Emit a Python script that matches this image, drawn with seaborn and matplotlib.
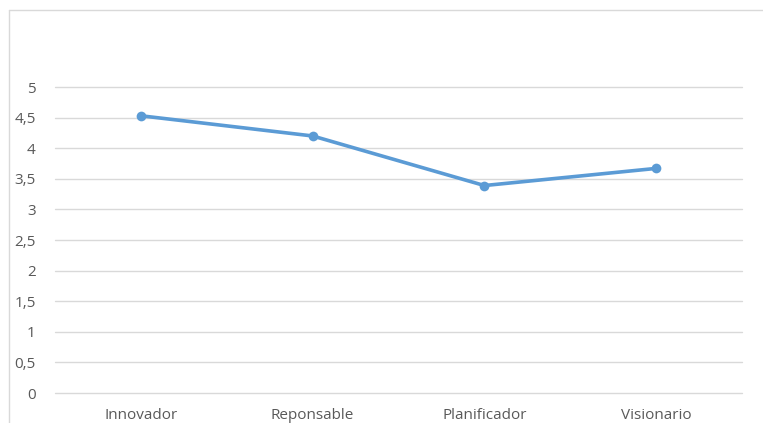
import matplotlib

matplotlib.use("Agg")
import matplotlib.pyplot as plt
import pandas as pd
import seaborn as sns
from matplotlib.lines import Line2D
from matplotlib.ticker import FuncFormatter

categories = ["Innovador", "Reponsable", "Planificador", "Visionario"]
values = [4.53, 4.20, 3.39, 3.67]
y_ticks = [0, 0.5, 1, 1.5, 2, 2.5, 3, 3.5, 4, 4.5, 5]

df = pd.DataFrame({"categoria": categories, "valor": values})

sns.set_theme(style="white")
plt.rcParams["font.family"] = ["Open Sans", "DejaVu Sans"]

fig = plt.figure(figsize=(7.63, 4.23), dpi=100)
ax = fig.add_axes([0.0721, 0.0709, 0.9004, 0.7234])

sns.lineplot(data=df, x="categoria", y="valor", ax=ax, color="#5B9BD5",
             linewidth=2.6, marker="o", markersize=7, markeredgewidth=0,
             sort=False, zorder=3)

ax.set_xlim(-0.5, 3.5)
ax.set_ylim(0, 5)
ax.set_yticks(y_ticks)
ax.yaxis.set_major_formatter(
    FuncFormatter(lambda v, _: f"{v:g}".replace(".", ","))
)
ax.grid(axis="y", color="#D9D9D9", linewidth=1)
for gl in ax.get_ygridlines():
    gl.set_clip_on(False)
ax.set_axisbelow(True)
for side in ax.spines.values():
    side.set_visible(False)
ax.tick_params(axis="both", length=0, labelsize=11, colors="#595959")
ax.tick_params(axis="x", pad=11)
ax.tick_params(axis="y", pad=14)
ax.set_xlabel("")
ax.set_ylabel("")

# chart area border (Excel style)
fig.add_artist(Line2D([0.0118, 0.0118], [0.0, 0.976], transform=fig.transFigure,
                      color="#D9D9D9", linewidth=1))
fig.add_artist(Line2D([0.0118, 1.0], [0.976, 0.976], transform=fig.transFigure,
                      color="#D9D9D9", linewidth=1))

fig.savefig("out.png", dpi=100)
